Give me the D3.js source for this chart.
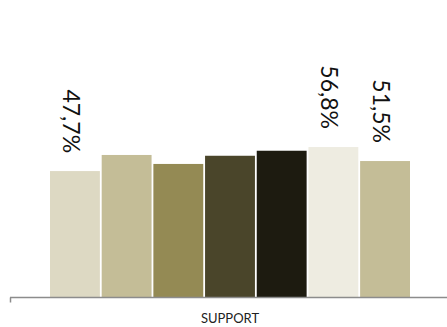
<!DOCTYPE html>
<html>
<head>
<meta charset="utf-8">
<script src="https://cdn.jsdelivr.net/npm/d3@7"></script>
<style>
  html, body { margin: 0; padding: 0; background: #fff; }
  svg { display: block; }
</style>
</head>
<body>
<svg id="chart" width="447" height="327"></svg>
<script>
// Survey results for the "SUPPORT" category, one bar per series
const categories = ["SUPPORT"];
const seriesNames = ["S1", "S2", "S3", "S4", "S5", "S6", "S7"];
const seriesValues = [47.7, 53.8, 50.4, 53.5, 55.4, 56.8, 51.5];
const labelledSeries = ["S1", "S6", "S7"];
const seriesColors = ["#DDD9C3", "#C4BD97", "#948A54", "#4A452A", "#1D1B10", "#EEECE1", "#C4BD97"];

const svg = d3.select("#chart");
const baseline = 297;

const x = d3.scaleBand().domain(categories).range([10, 450]);
const xInner = d3.scaleBand()
  .domain(seriesNames)
  .range([x(categories[0]) + 40, x(categories[0]) + 400])
  .paddingInner(0.035)
  .paddingOuter(0);
const y = d3.scaleLinear().domain([0, 100]).range([baseline, 33]);

const data = seriesNames.map((s, i) => ({ name: s, value: seriesValues[i], color: seriesColors[i] }));

svg.append("g").selectAll("rect")
  .data(data)
  .join("rect")
  .attr("x", d => xInner(d.name))
  .attr("y", d => y(d.value))
  .attr("width", xInner.bandwidth())
  .attr("height", d => y(0) - y(d.value))
  .attr("fill", d => d.color);

// Category axis along the bottom
const axis = svg.append("g")
  .attr("transform", `translate(0,${baseline + 0.5})`)
  .call(d3.axisBottom(x).tickSize(0).tickPadding(16));
axis.select(".domain").remove();
axis.append("line")
  .attr("x1", 10).attr("x2", 450)
  .attr("stroke", "#8C8C8C").attr("stroke-width", 1.5);
axis.append("line")
  .attr("x1", 10.5).attr("x2", 10.5)
  .attr("y1", 0).attr("y2", 5)
  .attr("stroke", "#8C8C8C").attr("stroke-width", 1.5);
axis.selectAll(".tick text")
  .attr("font-family", "Lato, 'Open Sans', sans-serif")
  .attr("font-size", 13)
  .attr("fill", "#222");

// Rotated value labels above selected bars
const fmt = v => d3.format(".1f")(v).replace(".", ",") + "%";
svg.append("g").selectAll("text")
  .data(data.filter(d => labelledSeries.includes(d.name)))
  .join("text")
  .attr("transform", d => `translate(${xInner(d.name) + xInner.bandwidth() / 2 - 3},${y(d.value) - 18}) rotate(90)`)
  .attr("text-anchor", "end")
  .attr("dominant-baseline", "central")
  .attr("font-family", "Lato, 'Open Sans', sans-serif")
  .attr("font-size", 23)
  .attr("fill", "#111")
  .text(d => fmt(d.value));
</script>
</body>
</html>
